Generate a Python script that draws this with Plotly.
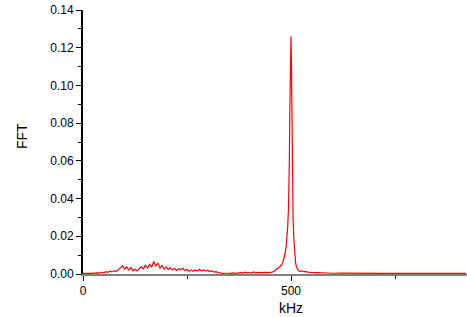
import plotly.graph_objects as go

# Frequency (kHz)
freq = [0, 5, 10, 15, 20, 25, 30, 35, 40, 45, 50, 55, 60, 65, 70, 75, 80, 85, 90, 95,
        100, 105, 110, 115, 120, 125, 130, 135, 140, 145, 150, 155, 160, 165, 170, 175,
        180, 185, 190, 195, 200, 205, 210, 215, 220, 225, 230, 235, 240, 245, 250, 255,
        260, 265, 270, 275, 280, 285, 290, 295, 300, 305, 310, 315, 320, 325, 330, 335,
        340, 345, 350, 355, 360, 365, 370, 375, 380, 385, 390, 395, 400, 405, 410, 415,
        420, 425, 430, 435, 440, 445, 450, 455, 460, 465, 470, 475, 480, 485, 488, 490,
        492, 494, 495, 496, 497, 498, 499, 500, 501, 502, 503, 504, 505, 507, 509, 511,
        513, 515, 518, 521, 525, 530, 535, 540, 545, 550, 560, 570, 580, 590, 600, 620,
        640, 660, 680, 700, 720, 740, 760, 780, 800, 820, 840, 860, 880, 900, 920]

# FFT amplitude (x 0.001)
fft_milli = [0.3, 0.2, 0.3, 0.4, 0.3, 0.5, 0.4, 0.6, 0.5, 0.9, 0.7, 1.2, 0.9, 1.5, 1.1, 1.8, 1.3, 2.2, 2.9, 4.3,
             2.6, 3.8, 2.1, 3.4, 1.8, 2.5, 1.6, 2.8, 3.9, 2.7, 4.6, 3.2, 5.1, 3.6, 6.6, 4.1,
             5.8, 3.1, 4.5, 2.6, 3.7, 2.4, 3.3, 2.1, 2.9, 1.9, 2.8, 2.2, 3.0, 1.8, 2.4, 1.5,
             2.2, 1.4, 2.1, 1.6, 2.5, 1.7, 2.2, 1.5, 2.0, 1.3, 1.6, 1.0, 1.2, 0.8, 0.5, 0.3,
             0.4, 0.2, 0.4, 0.3, 0.6, 0.3, 0.5, 0.4, 0.7, 0.5, 1.0, 0.6, 0.8, 0.5, 1.1, 0.6,
             0.9, 0.7, 0.8, 0.6, 0.9, 0.7, 0.8, 1.0, 1.6, 2.4, 3.2, 4.2, 6.0, 10, 14, 18,
             25, 35, 45, 60, 85, 118, 120, 126, 112, 75, 55, 40, 29, 18, 10, 6,
             3.7, 2.5, 1.8, 1.4, 1.6, 1.2, 1.4, 1.0, 1.1, 0.8, 0.7, 0.6, 0.5, 0.6, 0.4, 0.5,
             0.4, 0.3, 0.4, 0.3, 0.3, 0.4, 0.3, 0.3, 0.3, 0.2, 0.3, 0.3, 0.2, 0.3, 0.3]

fft = [v / 1000 for v in fft_milli]

fig = go.Figure()
fig.add_trace(go.Scatter(x=freq, y=fft, mode="lines",
                         line=dict(color="#ff0000", width=1.2), showlegend=False))

font = dict(family="Liberation Sans, Arial, sans-serif", color="#000000")

fig.update_layout(
    width=467, height=317,
    margin=dict(l=83, r=0, t=10, b=43),
    paper_bgcolor="white", plot_bgcolor="white",
    font=dict(**font, size=12),
    xaxis=dict(
        range=[0, 923], showgrid=False, zeroline=False, automargin=False,
        showline=True, linecolor="#808080", linewidth=1.5,
        tickmode="array", tickvals=[0, 500], ticktext=["0", "500"],
        ticks="outside", ticklen=5, tickcolor="#000000", tickwidth=1,
        minor=dict(tickvals=[250, 750], ticks="outside", ticklen=3, tickcolor="#000000"),
        tickfont=dict(**font, size=12),
    ),
    yaxis=dict(
        range=[0, 0.14], showgrid=False, zeroline=False, automargin=False,
        showline=True, linecolor="#000000", linewidth=2,
        tickmode="array", tickvals=[0, 0.02, 0.04, 0.06, 0.08, 0.10, 0.12, 0.14],
        ticktext=["0.00", "0.02", "0.04", "0.06", "0.08", "0.10", "0.12", "0.14"],
        ticks="outside", ticklen=5, tickcolor="#000000", tickwidth=1,
        minor=dict(tickvals=[0.01, 0.03, 0.05, 0.07, 0.09, 0.11, 0.13],
                   ticks="outside", ticklen=3, tickcolor="#000000"),
        tickfont=dict(**font, size=12),
    ),
    annotations=[
        dict(text="kHz", xref="paper", yref="paper", x=(291 - 83) / 384, y=-34 / 264,
             xanchor="center", yanchor="middle", showarrow=False, font=dict(**font, size=14)),
        dict(text="FFT", xref="paper", yref="paper", x=-61 / 384, y=(274 - 136) / 264,
             xanchor="center", yanchor="middle", textangle=-90, showarrow=False,
             font=dict(**font, size=14)),
    ],
)

fig.write_html("out.html", config={"displayModeBar": False},
               post_script="document.body.style.margin='0';document.body.style.overflow='hidden';")
